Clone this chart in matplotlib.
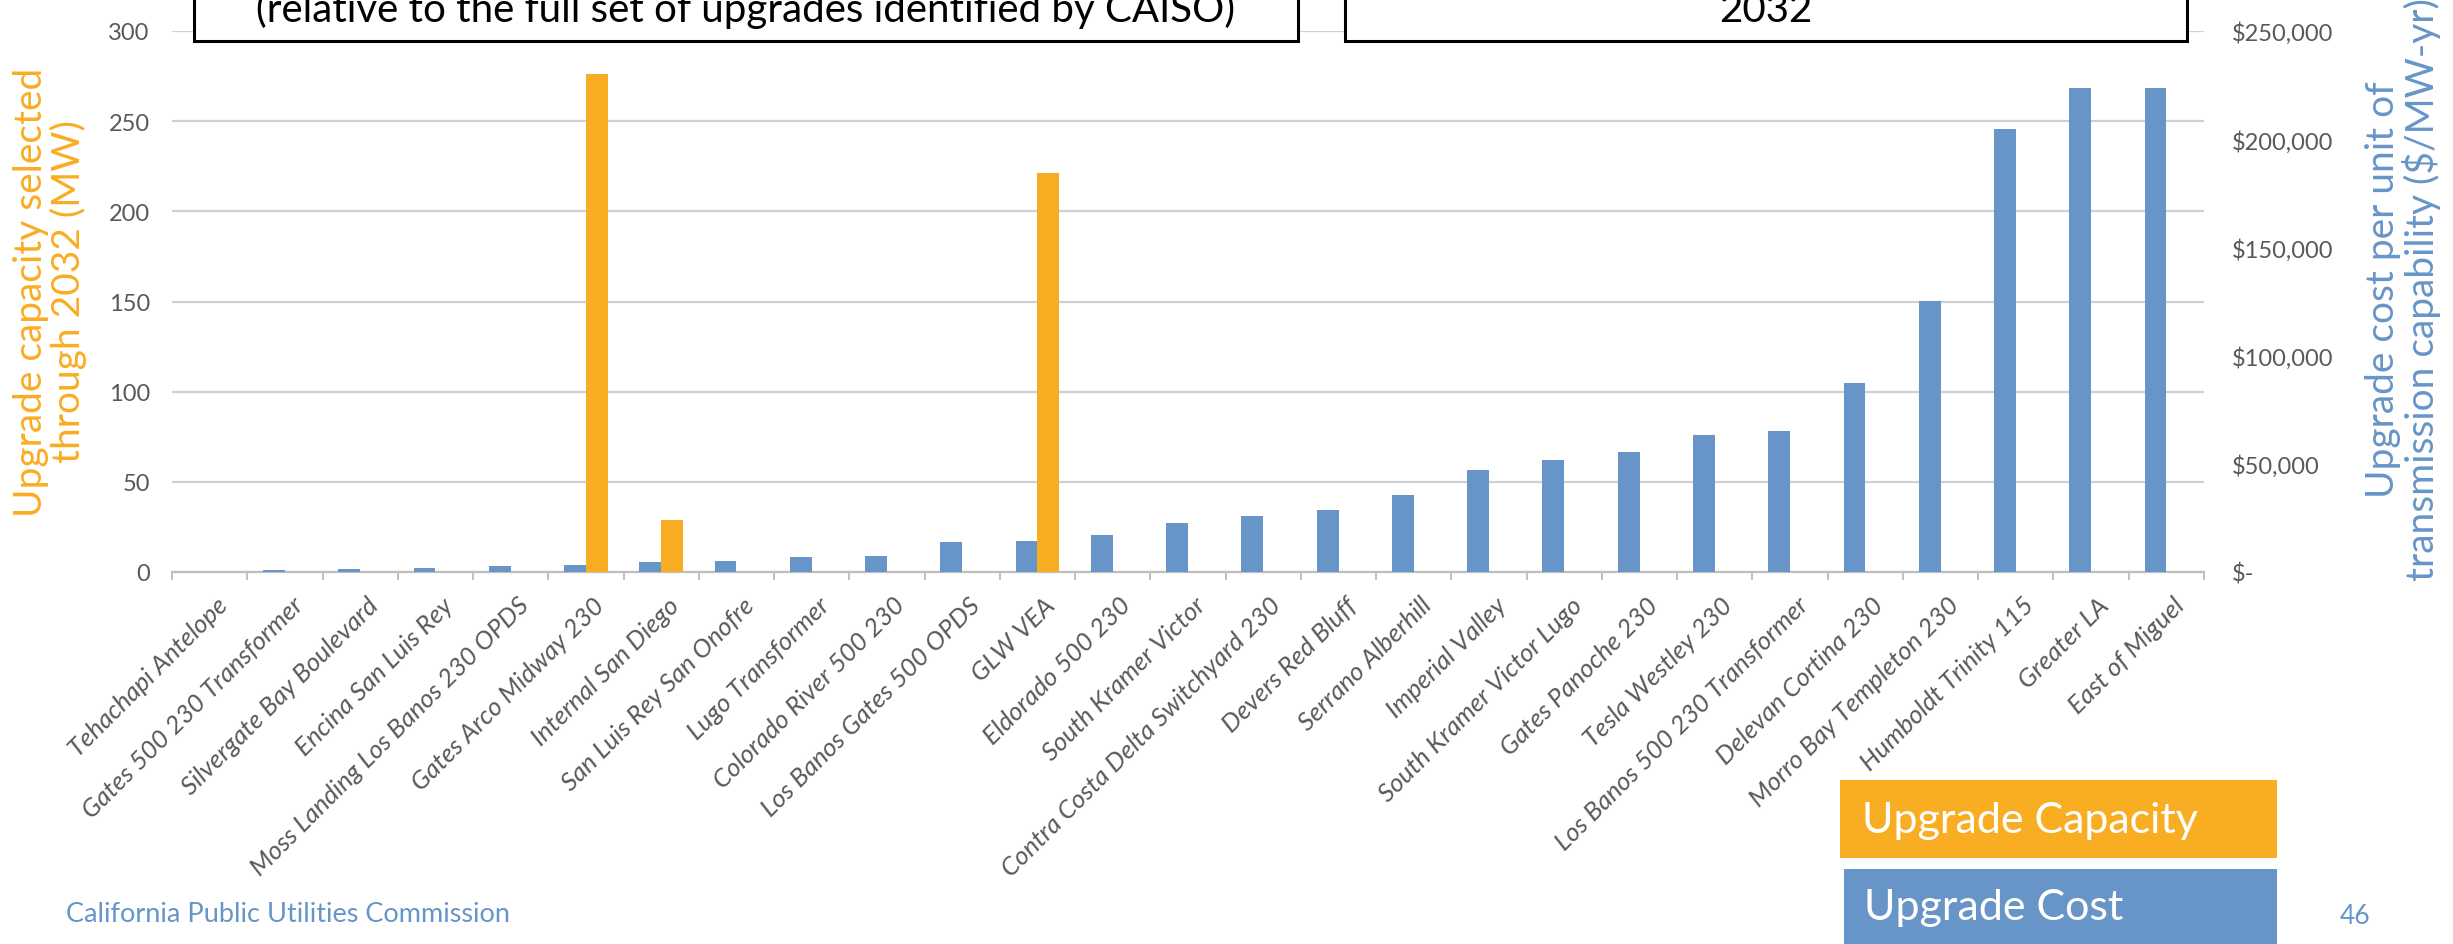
import numpy as np
import matplotlib
matplotlib.use('Agg')
import matplotlib.pyplot as plt
import matplotlib.transforms as mtransforms
from matplotlib.patches import Rectangle
from matplotlib.ticker import FuncFormatter

plt.rcParams['font.family'] = ['Lato', 'DejaVu Sans']

# --- data ---
upgrades = [
    'Tehachapi Antelope', 'Gates 500 230 Transformer', 'Silvergate Bay Boulevard',
    'Encina San Luis Rey', 'Moss Landing Los Banos 230 OPDS', 'Gates Arco Midway 230',
    'Internal San Diego', 'San Luis Rey San Onofre', 'Lugo Transformer',
    'Colorado River 500 230', 'Los Banos Gates 500 OPDS', 'GLW VEA',
    'Eldorado 500 230', 'South Kramer Victor', 'Contra Costa Delta Switchyard 230',
    'Devers Red Bluff', 'Serrano Alberhill', 'Imperial Valley',
    'South Kramer Victor Lugo', 'Gates Panoche 230', 'Tesla Westley 230',
    'Los Banos 500 230 Transformer', 'Delevan Cortina 230', 'Morro Bay Templeton 230',
    'Humboldt Trinity 115', 'Greater LA', 'East of Miguel',
]
capacity_mw = [0, 0, 0, 0, 0, 276, 29, 0, 0, 0, 0, 221, 0, 0, 0,
               0, 0, 0, 0, 0, 0, 0, 0, 0, 0, 0, 0]
cost_per_mw_yr = [0, 900, 1400, 1900, 2600, 3200, 4500, 5100, 6800,
                  7400, 14000, 14200, 17000, 22800, 25800, 28800, 35500, 47000,
                  51800, 55300, 63500, 65300, 87300, 125400, 204700, 223700, 223700]
left_ticks = [0, 50, 100, 150, 200, 250, 300]
right_ticks = [0, 50000, 100000, 150000, 200000, 250000]

ORANGE = '#F9AD23'
BLUE = '#6795C8'
TXT = '#595959'
GRID = '#D0D0D0'

W, H = 2453, 945
fig = plt.figure(figsize=(W / 100, H / 100), dpi=100)

def fx(px):
    return px / W

def fy(py):
    return 1 - py / H

ax = fig.add_axes([fx(172), fy(573), fx(2204) - fx(172), fy(32) - fy(573)])
ax2 = ax.twinx()

x = np.arange(len(upgrades))
bw = 0.29
ax2.bar(x - bw / 2, cost_per_mw_yr, bw, color=BLUE, zorder=3)
ax.bar(x + bw / 2, capacity_mw, bw, color=ORANGE, zorder=3)

ax.set_xlim(-0.5, len(upgrades) - 0.5)
ax.set_ylim(0, 300)
ax2.set_ylim(0, 250000)

for a in (ax, ax2):
    for s in a.spines.values():
        s.set_visible(False)
ax.spines['bottom'].set_visible(True)
ax.spines['bottom'].set_color('#BFBFBF')
ax.spines['bottom'].set_linewidth(1.6)

ax.set_yticks(left_ticks)
ax.yaxis.grid(True, color=GRID, linewidth=1.6)
ax.set_axisbelow(True)
ax.tick_params(axis='y', length=0, pad=16, labelsize=17, labelcolor=TXT)

ax2.set_yticks(right_ticks)
ax2.yaxis.set_major_formatter(FuncFormatter(lambda v, p: '$-' if v == 0 else f'${v:,.0f}'))
ax2.tick_params(axis='y', length=0, pad=20, labelsize=17, labelcolor=TXT)

ax.set_xticks(x)
ax.set_xticklabels(upgrades, rotation=45, ha='right', rotation_mode='anchor',
                   fontstyle='italic', color=TXT, fontsize=18.5)
ax.tick_params(axis='x', which='major', length=0, pad=15)
shift = mtransforms.ScaledTranslation(0.06, 0, fig.dpi_scale_trans)
for lbl in ax.get_xticklabels():
    lbl.set_transform(lbl.get_transform() + shift)
ax.set_xticks(np.arange(-0.5, len(upgrades), 1), minor=True)
ax.tick_params(axis='x', which='minor', length=6, width=1.4, color='#BFBFBF')

# axis titles
fig.text(fx(50), fy(292), 'Upgrade capacity selected\nthrough 2032 (MW)', rotation=90,
         ha='center', va='center', multialignment='center', color=ORANGE,
         fontsize=28, linespacing=1.05)
fig.text(fx(2403), fy(290), 'Upgrade cost per unit of\ntransmission capability ($/MW-yr)',
         rotation=90, ha='center', va='center', multialignment='center', color=BLUE,
         fontsize=28, linespacing=1.05)

# header boxes
for x0, x1, txt in [(194, 1298, '(relative to the full set of upgrades identified by CAISO)'),
                    (1345, 2187, '2032')]:
    fig.add_artist(Rectangle((fx(x0), fy(42)), fx(x1) - fx(x0), 0.1, transform=fig.transFigure,
                             facecolor='white', edgecolor='black', linewidth=2.2, zorder=10))
    fig.text(fx((x0 + x1) / 2), fy(22), txt, ha='center', va='baseline',
             fontsize=29, color='black', zorder=11)

# series key
fig.add_artist(Rectangle((fx(1840), fy(859)), fx(2277) - fx(1840), fy(781) - fy(859),
                         transform=fig.transFigure, facecolor=ORANGE, edgecolor='none'))
fig.text(fx(1862), fy(833), 'Upgrade Capacity', ha='left', va='baseline', color='white', fontsize=31)
fig.add_artist(Rectangle((fx(1844), fy(960)), fx(2277) - fx(1844), fy(870) - fy(960),
                         transform=fig.transFigure, facecolor=BLUE, edgecolor='none'))
fig.text(fx(1864), fy(920), 'Upgrade Cost', ha='left', va='baseline', color='white', fontsize=31)

fig.text(fx(66), fy(915), 'California Public Utilities Commission', ha='left', va='center',
         color=BLUE, fontsize=19.5)
fig.text(fx(2355), fy(917), '46', ha='center', va='center', color=BLUE, fontsize=19)

fig.savefig('out.png', dpi=100)
